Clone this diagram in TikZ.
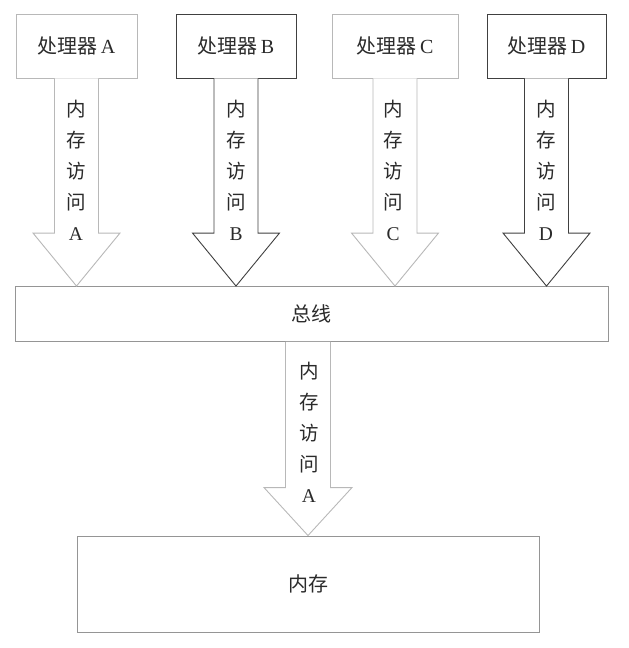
\documentclass[tikz,border=0pt]{standalone}
\usepackage{fontspec}
\setmainfont{Liberation Serif}
\newfontfamily\cjk{Noto Sans CJK SC}
\usetikzlibrary{calc}
\definecolor{lightln}{HTML}{B8B8B8}
\definecolor{midln}{HTML}{959595}
\definecolor{darkln}{HTML}{404040}
\definecolor{txt}{HTML}{2A2A2A}
\begin{document}
\begin{tikzpicture}[x=1pt,y=-1pt,
  box/.style={draw, line width=0.9pt, minimum height=64pt, inner sep=0pt, text=txt, font=\fontsize{20}{22}\selectfont},
  lightbox/.style={box, draw=lightln},
  darkbox/.style={box, draw=darkln},
  lbl/.style={align=center, text=txt, inner sep=0pt, font=\fontsize{19.5}{31}\selectfont},
  arr/.style={line width=0.9pt, fill=white, line join=miter}
]
\useasboundingbox (0,0) rectangle (629,648);
% processor boxes
\node[lightbox, minimum width=121pt] (pA) at (76.5,46) {{\cjk 处理器}\,A};
\node[darkbox, minimum width=120pt] (pB) at (236,46) {{\cjk 处理器}\,B};
\node[lightbox, minimum width=126pt] (pC) at (395,46) {{\cjk 处理器}\,C};
\node[darkbox, minimum width=119pt] (pD) at (546.5,46) {{\cjk 处理器}\,D};
% bus and memory
\node[draw=midln, line width=0.9pt, minimum width=593pt, minimum height=55pt, inner sep=0pt, text=txt, font=\fontsize{20}{22}\selectfont] (bus) at (311.5,314) {\cjk 总线};
\node[draw=midln, line width=0.9pt, minimum width=462pt, minimum height=96pt, inner sep=0pt, text=txt, font=\fontsize{20}{22}\selectfont] (mem) at (308,584) {\cjk 内存};
% arrows from processors to bus
\foreach \nd/\cl in {pA/lightln, pB/darkln, pC/lightln, pD/darkln}{
  \draw[arr, draw=\cl] let \p1=(\nd.south), \p2=(bus.north) in
    (\x1-22pt,\y1) -- (\x1-22pt,\y2+53pt) -- (\x1-43.5pt,\y2+53pt) -- (\x1,\y2)
    -- (\x1+43.5pt,\y2+53pt) -- (\x1+22pt,\y2+53pt) -- (\x1+22pt,\y1);
}
% arrow from bus to memory
\draw[arr, draw=lightln] let \p1=(mem.north), \p2=(bus.south) in
  (\x1-22.5pt,\y2) -- (\x1-22.5pt,\y1+48pt) -- (\x1-44pt,\y1+48pt) -- (\x1,\y1)
  -- (\x1+44pt,\y1+48pt) -- (\x1+22.5pt,\y1+48pt) -- (\x1+22.5pt,\y2);
% arrow labels
\node[lbl] (tA) at (76,170) {{\cjk 内}\\{\cjk 存}\\{\cjk 访}\\{\cjk 问}\\A};
\node[lbl] (tB) at (236,170) {{\cjk 内}\\{\cjk 存}\\{\cjk 访}\\{\cjk 问}\\B};
\node[lbl] (tC) at (393,170) {{\cjk 内}\\{\cjk 存}\\{\cjk 访}\\{\cjk 问}\\C};
\node[lbl] (tD) at (546,170) {{\cjk 内}\\{\cjk 存}\\{\cjk 访}\\{\cjk 问}\\D};
\node[lbl] (tM) at (309,432) {{\cjk 内}\\{\cjk 存}\\{\cjk 访}\\{\cjk 问}\\A};
\end{tikzpicture}
\end{document}
